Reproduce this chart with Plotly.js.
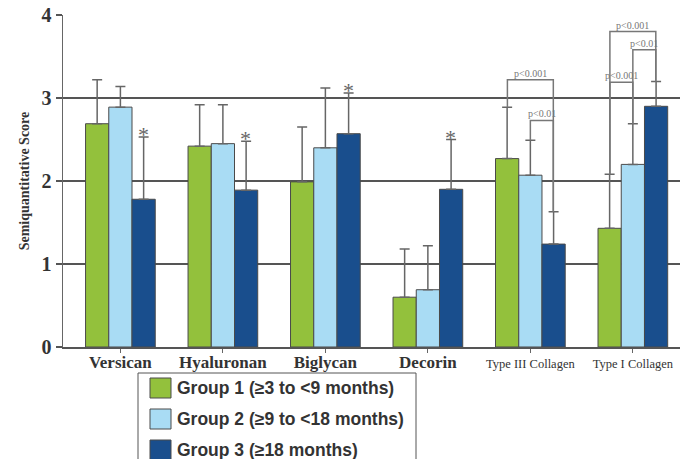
<!DOCTYPE html>
<html>
<head>
<meta charset="utf-8">
<script src="https://cdn.plot.ly/plotly-3.0.1.min.js"></script>
<style>html,body{margin:0;padding:0;background:#fff;}#chart{width:680px;height:459px;}</style>
</head>
<body>
<div id="chart"></div>
<script>
// ---- data ----
const categories = ["Versican", "Hyaluronan", "Biglycan", "Decorin", "Type III Collagen", "Type I Collagen"];
const tickLabels = ["Versican", "Hyaluronan", "Biglycan", "Decorin",
  "<span style=\"font-weight:normal;font-size:12.5px\">Type III Collagen</span>",
  "<span style=\"font-weight:normal;font-size:12.5px\">Type I Collagen</span>"];
const seriesNames = ["Group 1 (≥3 to <9 months)", "Group 2 (≥9 to <18 months)", "Group 3 (≥18 months)"];
const group1 = [2.69, 2.42, 1.99, 0.60, 2.27, 1.43];
const group2 = [2.89, 2.45, 2.40, 0.69, 2.07, 2.20];
const group3 = [1.78, 1.89, 2.57, 1.90, 1.24, 2.90];
const group1Err = [0.53, 0.50, 0.66, 0.58, 0.62, 0.65];
const group2Err = [0.25, 0.47, 0.72, 0.53, 0.42, 0.49];
const group3Err = [0.75, 0.59, 0.49, 0.60, 0.39, 0.30];
const starred = [0, 1, 2, 3];            // category indices with * on group 3
// significance brackets: [category index, from group, to group, bracket height, label]
const brackets = [
  [4, 0, 2, 3.22, "p<0.001"],
  [4, 1, 2, 2.73, "p<0.01"],
  [5, 0, 2, 3.80, "p<0.001"],
  [5, 0, 1, 3.19, "p<0.001"],
  [5, 1, 2, 3.58, "p<0.01"]
];

const colors = ["#93c13c", "#a9dcf4", "#194e8d"];
const vals = [group1, group2, group3];
const errs = [group1Err, group2Err, group3Err];
const barW = 0.224;

const traces = vals.map((v, k) => ({
  type: "bar",
  name: seriesNames[k],
  showlegend: false,
  x: categories.map((c, i) => i),
  y: v,
  marker: {color: colors[k], line: {color: "#4a4a4a", width: 1}},
  error_y: {type: "data", symmetric: false, array: errs[k], arrayminus: errs[k].map(() => 0),
            color: "#666", thickness: 1.5, width: 5},
  hoverinfo: "skip"
}));

const shapes = [];
const annotations = [];
function topOf(k, i) { return vals[k][i] + errs[k][i]; }
function xOf(k, i) { return i + (k - 1) * barW; }

brackets.forEach(([i, a, b, h, lab]) => {
  const xa = xOf(a, i), xb = xOf(b, i);
  const pathStr = `M${xa},${topOf(a, i)} L${xa},${h} L${xb},${h} L${xb},${topOf(b, i)}`;
  shapes.push({type: "path", xref: "x", yref: "y", path: pathStr, line: {color: "#777", width: 1.5}, layer: "above"});
  annotations.push({xref: "x", yref: "y", x: (xa + xb) / 2, y: h, text: lab, showarrow: false,
    yanchor: "bottom", yshift: -1, font: {family: "Liberation Serif", size: 10, color: "#777"}});
});

starred.forEach(i => {
  annotations.push({xref: "x", yref: "y", x: xOf(2, i), y: topOf(2, i), text: "*", showarrow: false,
    yanchor: "bottom", yshift: -12, font: {family: "Liberation Serif", size: 22, color: "#666"}});
});

// ---- legend box drawn in paper space (plot area: 617 x 332 px) ----
const PW = 617, PH = 332;
const px = v => v / PW, py = v => v / PH;
shapes.push({type: "rect", xref: "paper", yref: "paper", x0: px(75), x1: px(353), y0: py(-125), y1: py(-26),
  line: {color: "#555", width: 1}, fillcolor: "#fff", layer: "above"});
seriesNames.forEach((name, k) => {
  const cy = -41 - 31 * k;
  shapes.push({type: "rect", xref: "paper", yref: "paper", x0: px(87), x1: px(108), y0: py(cy - 10), y1: py(cy + 10),
    line: {color: "#4a4a4a", width: 1}, fillcolor: colors[k], layer: "above"});
  annotations.push({xref: "paper", yref: "paper", x: px(112), y: py(cy), xanchor: "left", yanchor: "middle",
    text: name, showarrow: false, font: {family: "Liberation Sans, Arial", size: 17.5, color: "#333", weight: "bold"}});
});

const layout = {
  width: 680, height: 459,
  margin: {l: 63, r: 0, t: 15, b: 112},
  paper_bgcolor: "#fff", plot_bgcolor: "#fff",
  barmode: "group", bargap: 0.32, bargroupgap: 0,
  showlegend: false,
  xaxis: {
    tickmode: "array", tickvals: categories.map((c, i) => i), ticktext: tickLabels,
    range: [-0.56, 5.46], tickson: "boundaries", ticks: "outside", ticklen: 4, tickcolor: "#666",
    ticklabelstandoff: -5,
    showline: true, linecolor: "#555", linewidth: 2, showgrid: false, zeroline: false,
    tickfont: {family: "Liberation Serif", size: 17, color: "#333", weight: "bold"}, fixedrange: true
  },
  yaxis: {
    range: [0, 4], tickvals: [0, 1, 2, 3, 4], ticks: "outside", ticklen: 6, tickcolor: "#555", tickwidth: 2,
    showline: true, linecolor: "#666", linewidth: 1.5, showgrid: true, gridcolor: "#555", gridwidth: 2,
    zeroline: false,
    tickfont: {family: "Liberation Serif", size: 20, color: "#333", weight: "bold"},
    title: {text: "Semiquantitative Score", standoff: 8,
      font: {family: "Liberation Serif", size: 14, color: "#333", weight: "bold"}},
    fixedrange: true
  },
  shapes: shapes,
  annotations: annotations
};

Plotly.newPlot("chart", traces, layout, {displayModeBar: false, staticPlot: true});
</script>
</body>
</html>
